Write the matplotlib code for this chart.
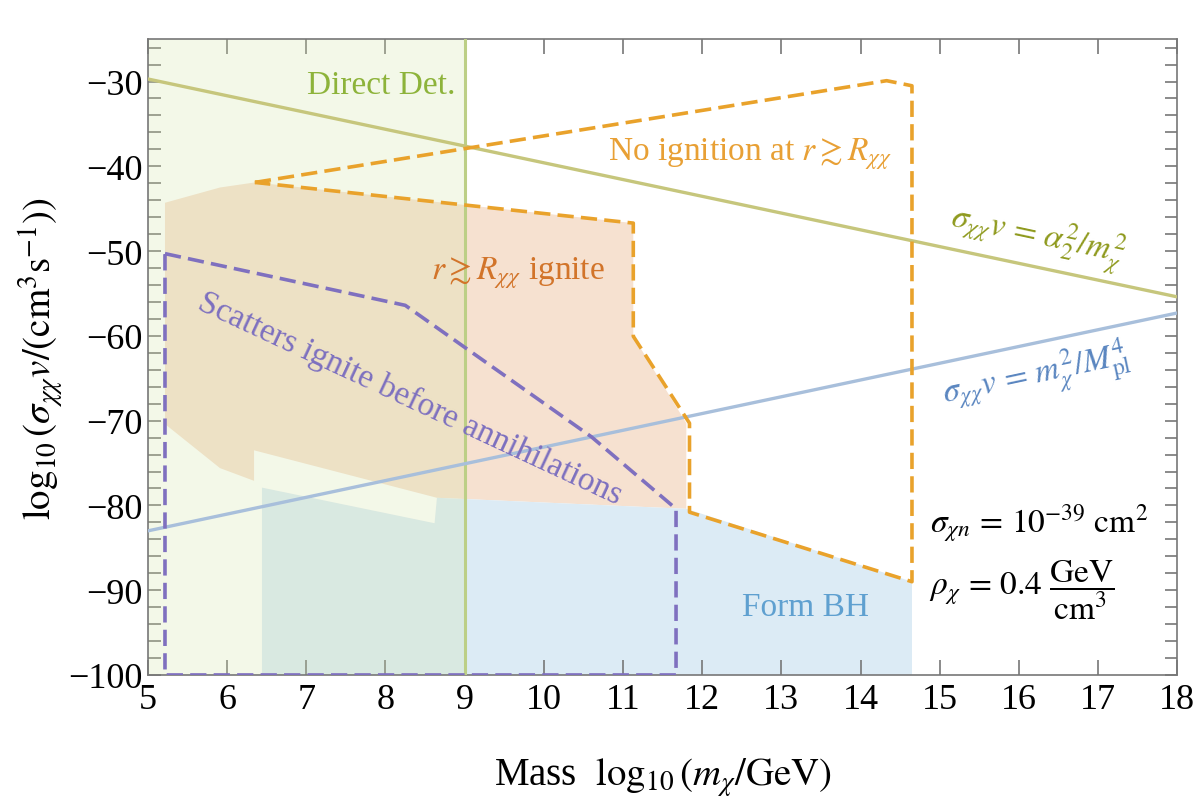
import matplotlib
matplotlib.use('Agg')
import matplotlib.pyplot as plt
from matplotlib.ticker import MultipleLocator

plt.rcParams['font.family'] = ['Liberation Serif', 'DejaVu Serif']
plt.rcParams['mathtext.fontset'] = 'stix'

# region boundaries (x = log10 m, y = log10 sigma v)
direct_det_x = [5, 9]

ignite_x = [5.215, 5.91, 6.35, 11.13, 11.13, 11.80, 11.80, 8.65, 6.34, 6.34, 5.91, 5.215]
ignite_y = [-44.3, -42.5, -41.9, -46.7, -60.05, -70.3, -80.4, -79.1, -73.5, -77.1, -75.6, -70.4]

no_ign_x = [6.35, 14.33, 14.65, 14.65, 11.84, 11.84, 11.13, 11.13, 6.35]
no_ign_y = [-41.9, -29.9, -30.5, -89.0, -80.8, -70.3, -60.05, -46.7, -41.9]

bh_x = [6.44, 8.62, 8.65, 11.80, 14.65, 14.65, 6.44]
bh_y = [-77.9, -82.1, -79.1, -80.4, -89.0, -100.0, -100.0]

scat_x = [5.215, 8.25, 10.6, 11.67, 11.67, 5.215, 5.215]
scat_y = [-50.3, -56.4, -71.9, -80.4, -100.0, -100.0, -50.3]

alpha_line_x = [5, 18]
alpha_line_y = [-29.7, -55.4]

planck_line_x = [5, 18]
planck_line_y = [-83.0, -57.3]

x_ticks = list(range(5, 19))
y_ticks = list(range(-100, -29, 10))


def main():
	fig = plt.figure(figsize=(12, 8.03), dpi=100)
	ax = fig.add_axes([0.1233, 0.1582, 0.8577, 0.7918])
	ax.set_xlim(5, 18)
	ax.set_ylim(-100, -25)

	#
	# filled regions
	#
	ax.fill(ignite_x, ignite_y, facecolor='#f6e1d0', edgecolor='none', zorder=1)
	ax.fill(bh_x, bh_y, facecolor='#dcebf5', edgecolor='none', zorder=1)
	ax.axvspan(direct_det_x[0], direct_det_x[1], facecolor='#d4e4a8', alpha=0.26,
			   edgecolor='none', zorder=2)
	ax.axvline(direct_det_x[1], color='#bccf86', lw=2.2, zorder=3)

	#
	# cross-section lines
	#
	ax.plot(alpha_line_x, alpha_line_y, color='#c6c67c', lw=2.4, zorder=3)
	ax.plot(planck_line_x, planck_line_y, color='#a8bfdb', lw=2.4, zorder=3)

	#
	# dashed boundaries
	#
	ax.plot(no_ign_x, no_ign_y, color='#e9a22b', lw=2.6, dashes=(4.5, 2),
			solid_joinstyle='round', zorder=4)
	ax.plot(scat_x, scat_y, color='#7f70bf', lw=2.6, dashes=(4.5, 2), zorder=4)

	#
	# labels
	#
	ax.text(8.88, -30.4, 'Direct Det.', color='#8db33a', fontsize=24,
			ha='right', va='center', zorder=5)
	ax.text(12.61, -38.4, r'No ignition at $r \gtrsim R_{\chi\chi}$', color='#e8a035',
			fontsize=24, ha='center', va='center', zorder=5)
	ax.text(9.67, -52.5, r'$r \gtrsim R_{\chi\chi}$ ignite', color='#d2742a',
			fontsize=24, ha='center', va='center', zorder=5)
	ax.text(8.31, -67.3, 'Scatters ignite before annihilations', color='#7d70bf',
			fontsize=24, ha='center', va='center', rotation=-25,
			rotation_mode='anchor', zorder=5)
	ax.text(16.23, -48.3, r'$\sigma_{\chi\chi}v\,=\,\alpha_2^2/m_\chi^2$', color='#8f9a1e',
			fontsize=24, ha='center', va='center', rotation=-12,
			rotation_mode='anchor', zorder=5)
	ax.text(16.22, -64.6, r'$\sigma_{\chi\chi}v\,=\,m_\chi^2/M_{\rm pl}^4$', color='#5a86c0',
			fontsize=24, ha='center', va='center', rotation=12,
			rotation_mode='anchor', zorder=5)
	ax.text(14.88, -82.1, r'$\sigma_{\chi n}\,=\,10^{-39}\ \rm cm^2$', color='black',
			fontsize=24, ha='left', va='center', zorder=5)
	ax.text(14.86, -89.9, r'$\rho_\chi\,=\,0.4\ \dfrac{\rm GeV}{\rm cm^3}$', color='black',
			fontsize=24, ha='left', va='center', zorder=5)
	ax.text(13.3, -92.0, 'Form BH', color='#5fa0d0', fontsize=24,
			ha='center', va='center', zorder=5)

	#
	# axes
	#
	ax.set_xticks(x_ticks)
	ax.set_yticks(y_ticks)
	ax.set_yticklabels(['\u2212%d' % (-v) for v in y_ticks])
	ax.yaxis.set_minor_locator(MultipleLocator(2))
	ax.tick_params(which='both', direction='in', top=True, right=True,
				   color='#777777', labelsize=26, width=1.2)
	ax.tick_params(axis='x', which='major', length=11, pad=6)
	ax.tick_params(axis='y', which='major', length=9, pad=4)
	ax.tick_params(axis='y', which='minor', length=9, width=1.2)
	for sp in ax.spines.values():
		sp.set_color('#777777')
		sp.set_linewidth(1.2)

	ax.set_xlabel(r'Mass  $\log_{10}(m_\chi/\mathrm{GeV})$', fontsize=28, labelpad=28)
	ax.set_ylabel(r'$\log_{10}(\sigma_{\chi\chi}v/(\mathrm{cm}^3\mathrm{s}^{-1}))$',
				  fontsize=28, labelpad=2)

	fig.savefig('out.png', dpi=100)


if __name__ == "__main__":
	main()
